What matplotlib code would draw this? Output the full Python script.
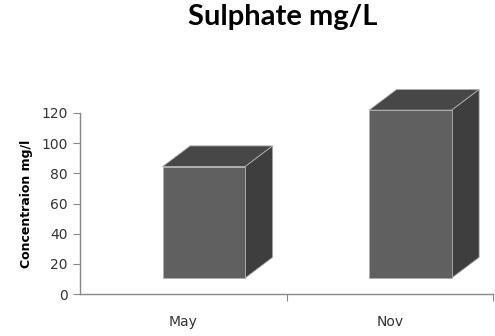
import matplotlib
matplotlib.use("Agg")
import matplotlib.pyplot as plt
from matplotlib.patches import Polygon

months = ["May", "Nov"]
sulphate = [73.9, 111.3]
y_ticks = [0, 20, 40, 60, 80, 100, 120]

# 3d look (data units)
floor = 10.6
bar_w = 0.40
bar_shift = 0.10
depth_x = 0.133
depth_y = 13.7
front_col = "#606060"
top_col = "#474747"
side_col = "#3e3e3e"
edge_col = "#b0b0b0"

fig = plt.figure(figsize=(4.95, 3.36), dpi=100)
ax = fig.add_axes([80/495, 42/336, 413/495, 181/336])

xs = list(range(len(months)))
bars = ax.bar([x + bar_shift for x in xs], sulphate, width=bar_w, bottom=floor,
              color=front_col, edgecolor=edge_col, linewidth=0.6, zorder=3)
for b in bars:
    b.set_clip_on(False)

for x, v in zip(xs, sulphate):
    x0 = x + bar_shift - bar_w/2
    x1 = x + bar_shift + bar_w/2
    top = floor + v
    top_face = [(x0, top), (x1, top), (x1 + depth_x, top + depth_y), (x0 + depth_x, top + depth_y)]
    side_face = [(x1, floor), (x1 + depth_x, floor + depth_y), (x1 + depth_x, top + depth_y), (x1, top)]
    ax.add_patch(Polygon(top_face, closed=True, facecolor=top_col, edgecolor=edge_col,
                         lw=0.6, zorder=2, clip_on=False))
    ax.add_patch(Polygon(side_face, closed=True, facecolor=side_col, edgecolor=edge_col,
                         lw=0.6, zorder=2, clip_on=False))

ax.set_xlim(-0.5, len(months) - 0.5)
ax.set_ylim(0, 120)
ax.set_yticks(y_ticks)
ax.set_yticklabels([str(t) for t in y_ticks], fontsize=10, color="#333333")
ax.set_xticks([x + 0.5 for x in xs])
ax.set_xticklabels([])
ax.set_xticks(xs, minor=True)
ax.set_xticklabels(months, minor=True, fontsize=10, color="#333333")
ax.tick_params(axis="x", which="minor", length=0, pad=15)
ax.tick_params(axis="x", which="major", length=5, color="#888888", direction="out")
ax.tick_params(axis="y", length=5, color="#888888", direction="out", pad=4)

for s in ["top", "right"]:
    ax.spines[s].set_visible(False)
for s in ["left", "bottom"]:
    ax.spines[s].set_color("#888888")
    ax.spines[s].set_linewidth(1.0)

ax.set_ylabel("Concentraion mg/l", fontsize=9, fontweight="bold", labelpad=6)
fig.text(283/495, 1 - 17/336, "Sulphate mg/L", fontsize=21, fontweight="bold",
         family=["Lato", "DejaVu Sans"], ha="center", va="center")

fig.savefig("out.png", dpi=100)
